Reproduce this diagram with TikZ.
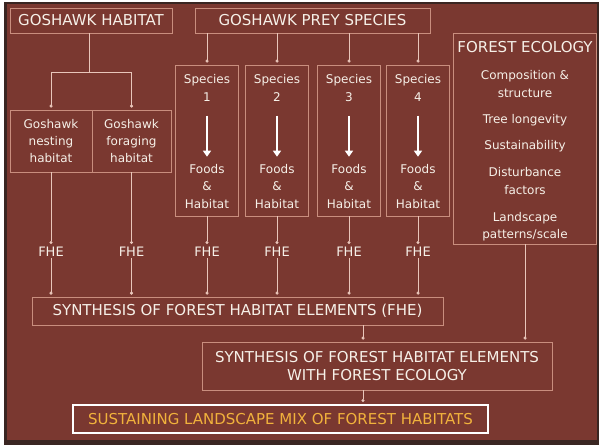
\documentclass[tikz,border=0pt]{standalone}
\usepackage{xcolor}
\usepackage{tikz}
\usepackage{fontspec}
\setmainfont{DejaVu Sans}
\usetikzlibrary{arrows.meta, positioning}
\definecolor{ghBg}{HTML}{7A3830}
\definecolor{ghEdge}{HTML}{3A2622}
\definecolor{ghLine}{HTML}{E9C6BA}
\definecolor{ghFrame}{HTML}{C98E7E}
\definecolor{ghText}{HTML}{F6F0E8}
\definecolor{ghGold}{HTML}{F1B23C}

\begin{document}
\begin{tikzpicture}[x=1pt, y=-1pt,
    hdrbox/.style={draw=ghFrame, line width=0.8pt, text=ghText,
      font=\fontsize{15}{18}\selectfont, inner sep=0pt, align=center},
    subbox/.style={draw=ghFrame, line width=0.8pt, text=ghText,
      font=\fontsize{12}{17}\selectfont, inner sep=0pt, align=center},
    txt/.style={text=ghText, font=\fontsize{12}{17.5}\selectfont,
      inner sep=0pt, align=center},
    fhe/.style={text=ghText, font=\fontsize{13}{15}\selectfont, inner sep=1pt},
    conn/.style={draw=ghLine, line width=0.7pt},
    arr/.style={conn, -{Circle[length=3pt]}, shorten >=2pt},
    bigarr/.style={draw=white, line width=2.2pt,
      -{Triangle[length=6pt, width=8pt]}}]
  % page and frame
  \fill[white] (0,0) rectangle (599,445);
  \fill[ghEdge] (4,2) rectangle (599,445);
  \fill[ghBg] (7,4) rectangle (597,440);

  % top row
  \node[hdrbox, minimum width=162, minimum height=25] (hab) at (91,20.5) {GOSHAWK HABITAT};
  \node[hdrbox, minimum width=235, minimum height=25] (prey) at (312.5,20.5) {GOSHAWK PREY SPECIES};

  % goshawk habitat branch
  \node[subbox, minimum width=82, minimum height=62] (nest) at (51,141) {Goshawk\\nesting\\habitat};
  \node[subbox, minimum width=79, minimum height=62] (forage) at (131.5,141) {Goshawk\\foraging\\habitat};
  \coordinate (hsplit) at (89,72);
  \draw[conn] (hab.south -| hsplit) -- (hsplit);
  \draw[arr] (hsplit) -| (nest.north);
  \draw[arr] (hsplit) -| (forage.north);

  % prey species columns
  \foreach \n/\x in {1/207, 2/277, 3/349, 4/418} {
    \node[subbox, minimum width=63, minimum height=151] (sp\n) at (\x,140.5) {};
    \node[txt, below=10pt of sp\n.north] (sp\n top) {Species\\\n};
    \node[txt, above=8pt of sp\n.south] (sp\n bot) {Foods\\\&\\Habitat};
    \draw[bigarr] ([yshift=-14pt]sp\n top.south) -- ([yshift=7pt]sp\n bot.north);
    \draw[arr] (sp\n.north |- prey.south) -- (sp\n.north);
  }

  % forest ecology
  \node[subbox, minimum width=143, minimum height=211] (eco) at (525,138.5) {};
  \node[txt, below=9pt of eco.north] (ecotxt)
    {{\fontsize{15}{18}\selectfont FOREST ECOLOGY}\\[9.5pt]
     Composition \&\\structure\\[8.5pt]
     Tree longevity\\[9pt]
     Sustainability\\[9.5pt]
     Disturbance\\factors\\[9.5pt]
     Landscape\\patterns/scale};

  % FHE labels
  \node[fhe] (fhe1) at (51,252) {FHE};
  \node[fhe] (fhe2) at (131.5,252) {FHE};
  \node[fhe] (fhe3) at (207,252) {FHE};
  \node[fhe] (fhe4) at (277,252) {FHE};
  \node[fhe] (fhe5) at (349,252) {FHE};
  \node[fhe] (fhe6) at (418,252) {FHE};
  \draw[arr] (nest.south) -- (fhe1.north);
  \draw[arr] (forage.south) -- (fhe2.north);
  \foreach \n/\m in {1/3, 2/4, 3/5, 4/6}
    \draw[arr] (sp\n.south) -- (fhe\m.north);

  % synthesis boxes
  \node[hdrbox, minimum width=411, minimum height=28] (syn1) at (237.5,311) {SYNTHESIS OF FOREST HABITAT ELEMENTS (FHE)};
  \foreach \m in {1,...,6}
    \draw[arr] (fhe\m.south) -- (fhe\m.south |- syn1.north);

  \node[hdrbox, minimum width=350, minimum height=48] (syn2) at (377,366) {SYNTHESIS OF FOREST HABITAT ELEMENTS\\WITH FOREST ECOLOGY};
  \coordinate (synx) at (363,0);
  \draw[arr] (syn1.south -| synx) -- (syn2.north -| synx);
  \draw[arr] (eco.south) -- (eco.south |- syn2.north);

  \node[hdrbox, draw=white, line width=2pt, text=ghGold, minimum width=415,
        minimum height=28] (mix) at (280.5,419) {SUSTAINING LANDSCAPE MIX OF FOREST HABITATS};
  \draw[arr] (syn2.south -| synx) -- (mix.north -| synx);
\end{tikzpicture}
\end{document}
